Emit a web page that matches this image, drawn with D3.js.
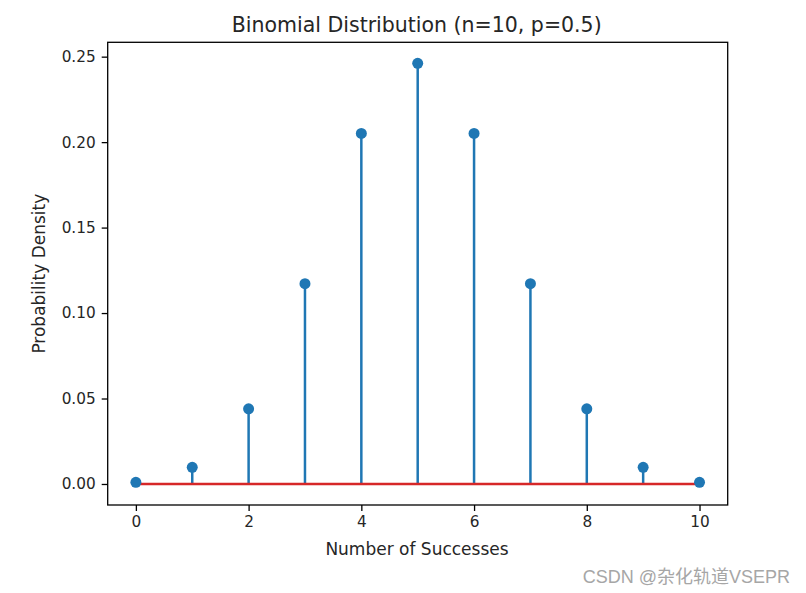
<!DOCTYPE html>
<html><head><meta charset="utf-8">
<script src="https://cdn.jsdelivr.net/npm/d3@7"></script>
<style>body{margin:0;background:#fff}svg{display:block}</style>
</head><body>
<script>
const successes = [0,1,2,3,4,5,6,7,8,9,10];
const probabilities = [0.000977,0.009766,0.043945,0.117188,0.205078,0.246094,0.205078,0.117188,0.043945,0.009766,0.000977];
const xTicks = [0,2,4,6,8,10];
const yTicks = [0,0.05,0.10,0.15,0.20,0.25];
const title = "Binomial Distribution (n=10, p=0.5)";
const xLabel = "Number of Successes";
const yLabel = "Probability Density";
const watermark = "CSDN @杂化轨道VSEPR";

const W=806,H=593;
const m={left:107.7,top:42.3,right:727.7,bottom:505};
const svg=d3.select("body").append("svg").attr("width",W).attr("height",H);
const font="DejaVu Sans, sans-serif";
const x=d3.scaleLinear().domain([-0.5,10.5]).range([m.left,m.right]);
const y=d3.scaleLinear().domain([-0.0123,0.2584]).range([m.bottom,m.top]);

const g=svg.append("g");
g.selectAll("line.stem").data(successes).join("line")
 .attr("x1",d=>x(d)).attr("x2",d=>x(d))
 .attr("y1",y(0)).attr("y2",(d,i)=>y(probabilities[i]))
 .attr("stroke","#1f77b4").attr("stroke-width",2.5);
g.append("line").attr("x1",x(0)).attr("x2",x(10)).attr("y1",y(0)).attr("y2",y(0))
 .attr("stroke","#d62728").attr("stroke-width",2.5);
g.selectAll("circle").data(successes).join("circle")
 .attr("cx",d=>x(d)).attr("cy",(d,i)=>y(probabilities[i])).attr("r",5.5)
 .attr("fill","#1f77b4");

const xa=svg.append("g").attr("transform",`translate(0,${m.bottom})`)
 .call(d3.axisBottom(x).tickValues(xTicks).tickSize(6).tickPadding(5).tickFormat(d3.format("d")));
const ya=svg.append("g").attr("transform",`translate(${m.left},0)`)
 .call(d3.axisLeft(y).tickValues(yTicks).tickSize(6).tickPadding(6).tickFormat(d3.format(".2f")));
[xa,ya].forEach(a=>{a.select(".domain").remove();
 a.selectAll("text").attr("font-family",font).attr("font-size",15.3).attr("fill","#262626");
 a.selectAll("line").attr("stroke","#000").attr("stroke-width",1.3);});
svg.append("rect").attr("x",m.left).attr("y",m.top).attr("width",m.right-m.left).attr("height",m.bottom-m.top)
 .attr("fill","none").attr("stroke","#000").attr("stroke-width",1.3);

svg.append("text").attr("x",416.7).attr("y",31.7).attr("text-anchor","middle")
 .attr("font-family",font).attr("font-size",20.5).attr("fill","#262626").text(title);
svg.append("text").attr("x",417).attr("y",555).attr("text-anchor","middle")
 .attr("font-family",font).attr("font-size",17).attr("fill","#262626").text(xLabel);
svg.append("text").attr("transform",`translate(45,${(m.top+m.bottom)/2}) rotate(-90)`).attr("text-anchor","middle")
 .attr("font-family",font).attr("font-size",17).attr("fill","#262626").text(yLabel);
svg.append("text").attr("x",790).attr("y",583).attr("text-anchor","end")
 .attr("font-family","Liberation Sans, Noto Sans CJK SC, sans-serif").attr("font-size",18).attr("fill","#a6a6a6").text(watermark);
</script>
</body></html>
